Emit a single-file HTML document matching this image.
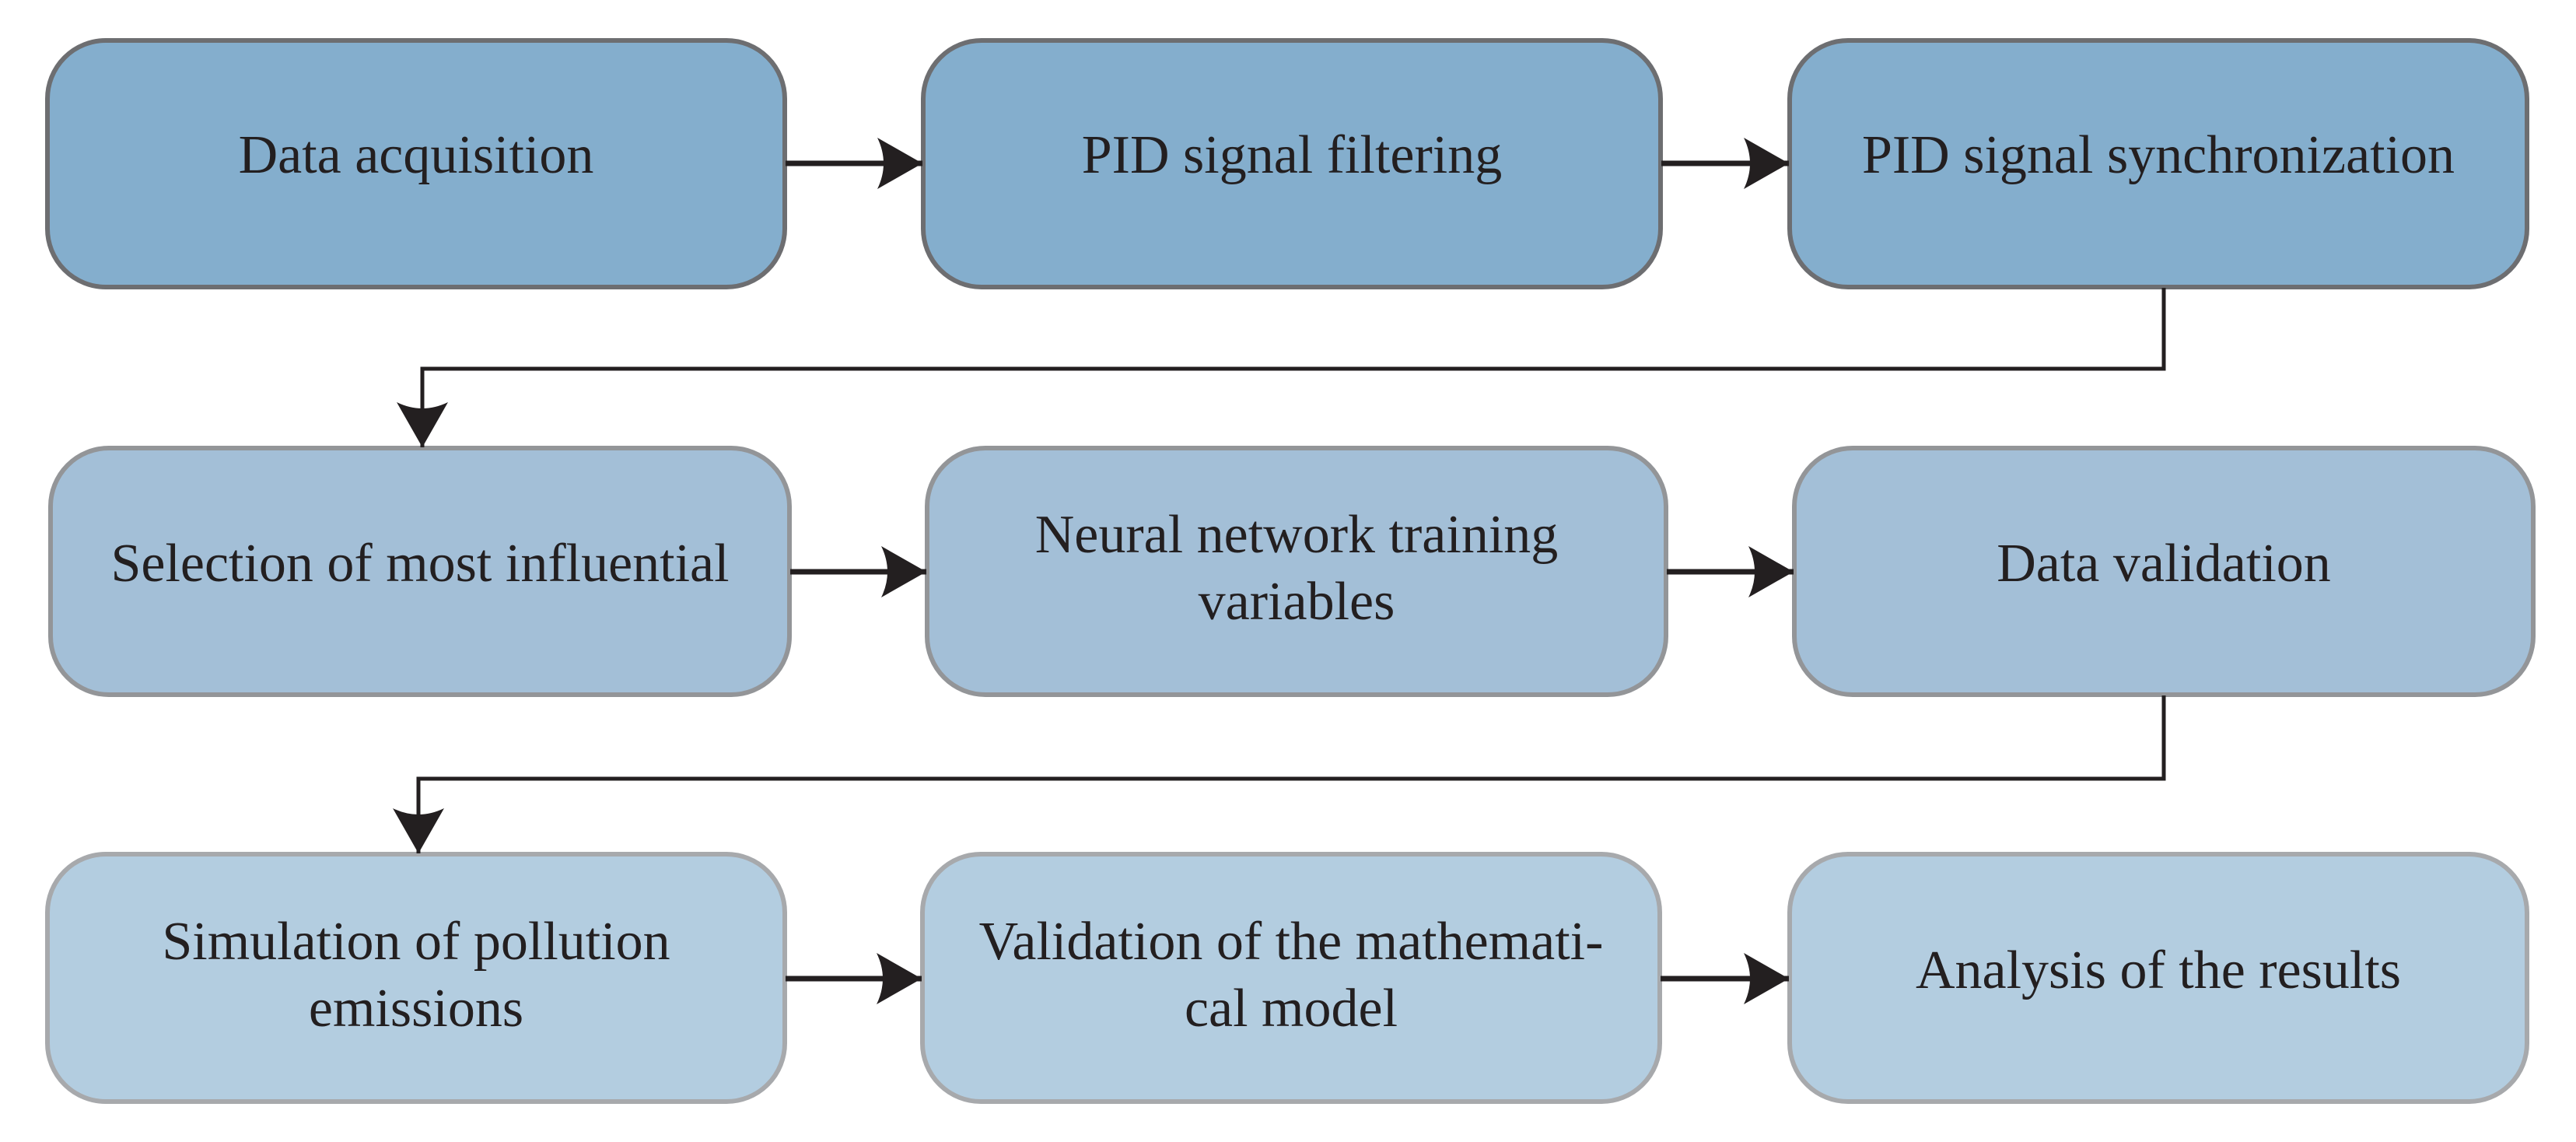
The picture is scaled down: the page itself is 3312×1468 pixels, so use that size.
<!DOCTYPE html>
<html><head><meta charset="utf-8"><style>
html,body{margin:0;padding:0;background:#fff;}
svg{display:block;}
text{font-family:"Liberation Serif",serif;font-size:70px;fill:#231f20;text-anchor:middle;}
</style></head><body>
<svg width="3312" height="1468" viewBox="0 0 3312 1468" xmlns="http://www.w3.org/2000/svg">
<defs>
<marker id="ah" markerUnits="userSpaceOnUse" markerWidth="60" markerHeight="70" refX="58" refY="35" orient="auto">
<path d="M0,2 L58,35 L0,68 Q16,35 0,2 Z" fill="#231f20"/>
</marker>
</defs>
<g stroke-width="6">
<rect x="61" y="52" width="948" height="317" rx="75" fill="#84aecd" stroke="#6d6e71"/>
<rect x="1187" y="52" width="948" height="317" rx="75" fill="#84aecd" stroke="#6d6e71"/>
<rect x="2301" y="52" width="948" height="317" rx="75" fill="#84aecd" stroke="#6d6e71"/>
<rect x="65" y="576" width="950" height="317" rx="75" fill="#a3bfd7" stroke="#939598"/>
<rect x="1192" y="576" width="950" height="317" rx="75" fill="#a3bfd7" stroke="#939598"/>
<rect x="2307" y="576" width="950" height="317" rx="75" fill="#a3bfd7" stroke="#939598"/>
<rect x="61" y="1098" width="948" height="318" rx="75" fill="#b3cde0" stroke="#a7a9ac"/>
<rect x="1186" y="1098" width="948" height="318" rx="75" fill="#b3cde0" stroke="#a7a9ac"/>
<rect x="2301" y="1098" width="948" height="318" rx="75" fill="#b3cde0" stroke="#a7a9ac"/>
</g>
<g stroke="#231f20" stroke-width="7" fill="none">
<line x1="1010" y1="210" x2="1186" y2="210" marker-end="url(#ah)"/>
<line x1="2136" y1="210" x2="2300" y2="210" marker-end="url(#ah)"/>
<line x1="1016" y1="735" x2="1191" y2="735" marker-end="url(#ah)"/>
<line x1="2143" y1="735" x2="2306" y2="735" marker-end="url(#ah)"/>
<line x1="1010" y1="1258" x2="1185" y2="1258" marker-end="url(#ah)"/>
<line x1="2135" y1="1258" x2="2300" y2="1258" marker-end="url(#ah)"/>
<polyline points="2782,370 2782,474 543,474 543,575" stroke-width="5" marker-end="url(#ah)"/>
<polyline points="2782,894 2782,1001 538,1001 538,1097" stroke-width="5" marker-end="url(#ah)"/>
</g>
<text x="535" y="222">Data acquisition</text>
<text x="1661" y="222">PID signal filtering</text>
<text x="2775" y="222">PID signal synchronization</text>
<text x="540" y="747">Selection of most influential</text>
<text x="1667" y="710">Neural network training</text>
<text x="1667" y="796">variables</text>
<text x="2782" y="747">Data validation</text>
<text x="535" y="1233">Simulation of pollution</text>
<text x="535" y="1319">emissions</text>
<text x="1660" y="1233">Validation of the mathemati-</text>
<text x="1660" y="1319">cal model</text>
<text x="2775" y="1270">Analysis of the results</text>
</svg>
</body></html>
